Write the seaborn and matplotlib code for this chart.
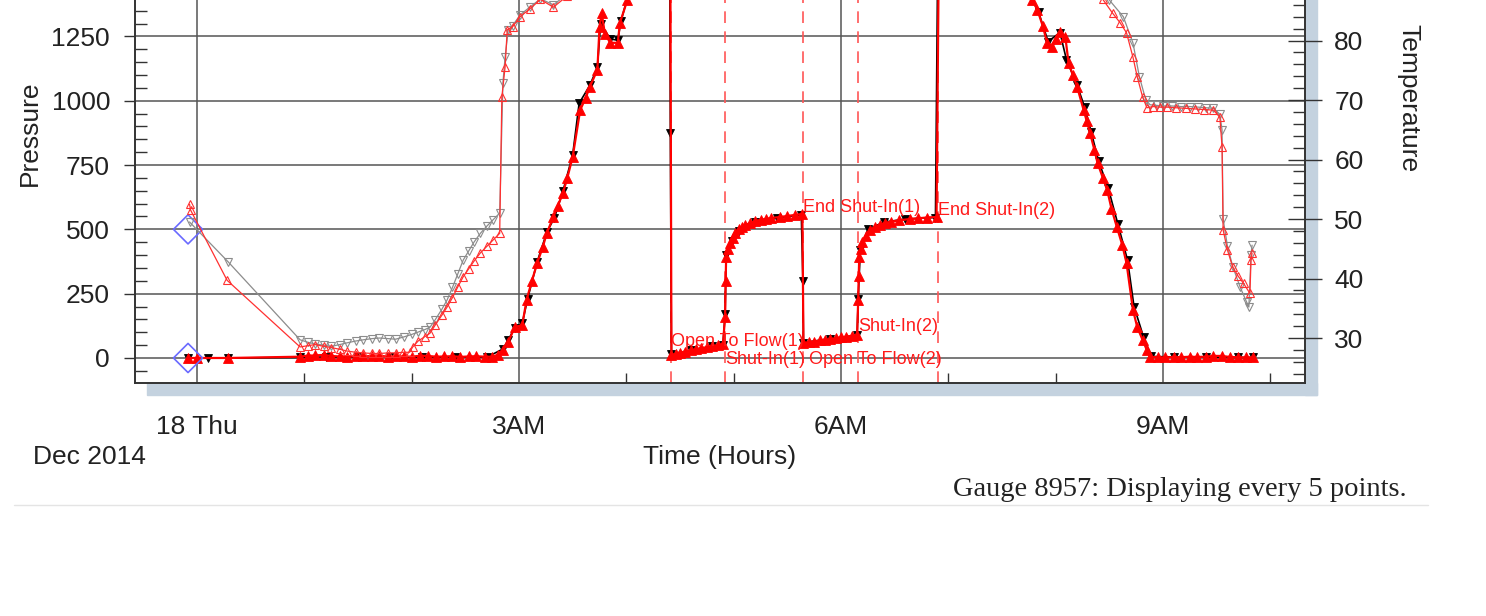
import matplotlib
matplotlib.use("Agg")
import matplotlib.pyplot as plt
from matplotlib.patches import Rectangle
from matplotlib.lines import Line2D
from matplotlib.ticker import MultipleLocator
import seaborn as sns

# ---- data (hours after midnight, Dec 18 2014) ----
# gauge pressure, red filled triangles
pres_red_h = [-0.08, 0.0, 0.29, 0.96, 1.03, 1.1, 1.18, 1.25, 1.33, 1.4, 1.48, 1.55, 1.63, 1.7,
              1.78, 1.85, 1.93, 2.0, 2.08, 2.15, 2.23, 2.3, 2.38, 2.45, 2.53, 2.6, 2.68, 2.75,
              2.8, 2.85, 2.9, 2.96, 3.03, 3.07, 3.12, 3.17, 3.22, 3.26, 3.32, 3.36, 3.41, 3.45,
              3.5, 3.57, 3.62, 3.66, 3.73, 3.75, 3.77, 3.8, 3.85, 3.92, 3.94, 4.01, 4.15, 4.3,
              4.41, 4.42, 4.46, 4.5, 4.55, 4.6, 4.65, 4.7, 4.75, 4.8, 4.85, 4.9, 4.92, 4.925,
              4.93, 4.95, 4.97, 4.99, 5.01, 5.05, 5.08, 5.11, 5.15, 5.2, 5.25, 5.3, 5.35, 5.43,
              5.5, 5.57, 5.64, 5.65, 5.7, 5.75, 5.8, 5.85, 5.9, 5.95, 6.0, 6.05, 6.1, 6.15,
              6.16, 6.165, 6.17, 6.185, 6.2, 6.23, 6.27, 6.32, 6.36, 6.41, 6.47, 6.54, 6.64,
              6.72, 6.8, 6.89, 6.91, 7.3, 7.7, 7.78, 7.83, 7.88, 7.92, 7.97, 8.0, 8.04, 8.09,
              8.12, 8.16, 8.2, 8.26, 8.29, 8.32, 8.36, 8.39, 8.44, 8.48, 8.52, 8.57, 8.62,
              8.66, 8.72, 8.76, 8.81, 8.85, 8.88, 8.95, 9.02, 9.1, 9.17, 9.25, 9.32, 9.4, 9.47,
              9.55, 9.62, 9.7, 9.77, 9.84]
pres_red = [0, 0, 0, 5, 9, 10, 12, 8, 6, 4, 7, 6, 8, 9,
            5, 7, 6, 5, 9, 8, 5, 6, 7, 4, 6, 7, 5, 5,
            12, 31, 62, 120, 128, 225, 300, 369, 430, 486, 548, 590, 642, 700,
            782, 964, 1010, 1054, 1120, 1287, 1341, 1260, 1225, 1225, 1302, 1392, 1480, 1520,
            1530, 12, 16, 21, 25, 30, 34, 38, 42, 46, 50, 55, 159, 300,
            393, 425, 447, 468, 486, 500, 510, 517, 524, 532, 537, 541, 544, 548,
            552, 556, 560, 58, 62, 64, 68, 71, 73, 77, 80, 83, 86, 89,
            225, 320, 393, 425, 451, 475, 498, 510, 518, 525, 530, 535, 540,
            543, 546, 548, 1520, 1560, 1500, 1392, 1353, 1290, 1225, 1209, 1240, 1268, 1248,
            1147, 1100, 1054, 964, 920, 875, 810, 758, 700, 653, 580, 509, 440,
            369, 187, 120, 70, 30, 4, 3, 2, 4, 3, 5, 4, 5, 8,
            8, 4, 3, 2, 2]

# gauge pressure, black filled triangles
pres_blk_h = [-0.08, 0.1, 0.29, 0.96, 1.2, 1.5, 1.8, 2.1, 2.4, 2.7, 2.85, 2.9, 2.96, 3.03, 3.08,
              3.17, 3.26, 3.33, 3.41, 3.5, 3.56, 3.66, 3.73, 3.76, 3.85, 3.92, 3.95, 4.01, 4.3,
              4.405, 4.41, 4.42, 4.6, 4.8, 4.9, 4.92, 4.93, 4.98, 5.05, 5.2, 5.4, 5.63, 5.645,
              5.65, 5.9, 6.15, 6.16, 6.18, 6.25, 6.4, 6.6, 6.88, 6.9, 7.7, 7.78, 7.84, 7.93,
              8.04, 8.1, 8.2, 8.27, 8.33, 8.4, 8.49, 8.58, 8.67, 8.73, 8.82, 8.89, 9.1, 9.4,
              9.7, 9.84]
pres_blk = [0, 0, 0, 2, 4, 3, 5, 2, 4, 3, 35, 70, 118, 135, 230,
            375, 490, 545, 650, 790, 990, 1060, 1130, 1300, 1240, 1235, 1310, 1400, 1525,
            1525, 875, 15, 30, 45, 52, 170, 400, 455, 495, 530, 545, 556, 300,
            60, 75, 88, 230, 420, 500, 528, 540, 546, 1500, 1500, 1395, 1345, 1230,
            1265, 1160, 1060, 975, 880, 765, 660, 520, 380, 200, 80, 6, 4, 3,
            2, 2]

# gauge temperature, red hollow triangles
temp_red_h = [-0.07, -0.06, 0.28, 0.96, 1.03, 1.1, 1.18, 1.25, 1.33, 1.4, 1.48, 1.55, 1.63,
              1.7, 1.78, 1.85, 1.92, 1.98, 2.01, 2.06, 2.12, 2.17, 2.22, 2.28, 2.33, 2.38,
              2.43, 2.48, 2.53, 2.58, 2.64, 2.7, 2.76, 2.82, 2.84, 2.87, 2.89, 2.94, 3.01,
              3.1, 3.2, 3.32, 3.45, 4.0, 5.0, 6.0, 7.0, 8.0, 8.44, 8.53, 8.6, 8.66, 8.72,
              8.76, 8.81, 8.85, 8.91, 8.97, 9.04, 9.12, 9.21, 9.3, 9.38, 9.47, 9.53, 9.55,
              9.56, 9.6, 9.65, 9.7, 9.75, 9.81, 9.82, 9.83]
temp_red = [52.5, 51.5, 39.7, 28.5, 28.7, 28.9, 28.6, 28.4, 28.1, 27.8, 27.6, 27.5, 27.4,
            27.4, 27.5, 27.5, 27.6, 27.6, 28.5, 29.5, 30.2, 30.8, 32.2, 33.8, 35.2, 36.8,
            38.6, 40.3, 41.6, 42.9, 44.3, 45.4, 46.5, 47.6, 70.5, 75.5, 81.8, 82.3, 84.0,
            85.3, 86.9, 85.6, 87.5, 95, 100, 100, 98, 95, 86.9, 84.6, 83.0, 81.3, 77.2,
            73.9, 70.5, 68.7, 68.9, 68.8, 68.8, 68.7, 68.6, 68.5, 68.4, 68.3, 67.1, 62.1,
            48.2, 44.8, 41.9, 40.4, 39.2, 37.5, 43.1, 44.3]

# gauge temperature, gray hollow triangles
temp_gry_h = [-0.07, 0.29, 0.96, 1.03, 1.1, 1.18, 1.25, 1.33, 1.4, 1.48, 1.55, 1.63, 1.7,
              1.78, 1.85, 1.93, 2.0, 2.06, 2.12, 2.17, 2.22, 2.28, 2.33, 2.38, 2.43, 2.48,
              2.53, 2.58, 2.64, 2.7, 2.76, 2.82, 2.85, 2.87, 2.9, 2.94, 3.01, 3.1, 3.2, 3.32,
              3.45, 4.0, 5.0, 6.0, 7.0, 8.0, 8.5, 8.63, 8.72, 8.78, 8.84, 8.88, 8.94, 9.0,
              9.08, 9.17, 9.25, 9.33, 9.4, 9.47, 9.53, 9.55, 9.56, 9.6, 9.65, 9.72, 9.78,
              9.8, 9.82, 9.83]
temp_gry = [49.5, 42.8, 29.7, 29.3, 29.0, 28.8, 28.6, 28.9, 29.2, 29.5, 29.7, 29.9, 30.0,
            29.9, 29.8, 30.2, 30.6, 31.0, 31.4, 31.8, 33.1, 34.8, 36.4, 38.5, 40.8, 43.1,
            44.6, 46.1, 47.6, 48.8, 49.9, 51.0, 72.9, 77.2, 81.8, 82.5, 84.3, 85.6, 87.0,
            86.0, 87.8, 95, 100, 100, 98, 95, 86.8, 84.0, 79.6, 73.9, 70.0, 69.2, 69.1,
            69.0, 69.0, 68.9, 68.9, 68.8, 68.7, 68.6, 67.6, 65.0, 50.0, 45.5, 42.0, 38.5,
            36.0, 35.2, 44.0, 45.6]

# reference markers (blue diamonds)
ref_h = [-0.084, -0.084]
ref_p = [500, 0]

# test events
event_h = [4.42, 4.92, 5.65, 6.16, 6.90]
event_labels = ["Open To Flow(1)", "Shut-In(1)", "End Shut-In(1)", "Open To Flow(2)",
                "Shut-In(2)", "End Shut-In(2)"]
event_label_h = [4.42, 4.92, 5.65, 5.70, 6.16, 6.90]
event_label_p = [64, -4, 583, -4, 121, 575]

x_ticks = [0, 3, 6, 9]
x_ticklabels = ["18 Thu", "3AM", "6AM", "9AM"]
p_ticks = [0, 250, 500, 750, 1000, 1250]
t_ticks = [30, 40, 50, 60, 70, 80]

W, H = 1486, 616


def fx(px):
    return px / W


def fy(py):
    return 1 - py / H


sns.set_style("white")
plt.rcParams["font.family"] = ["Liberation Sans", "DejaVu Sans"]

fig = plt.figure(figsize=(W / 100, H / 100), dpi=100)
ax = fig.add_axes([fx(135), fy(383), fx(1305) - fx(135), (383 + 30) / H])
ax2 = ax.twinx()

# drop shadow behind the plot frame
shadow = "#c4d2df"
fig.add_artist(Rectangle((fx(1305), fy(395)), fx(12), (395 + 10) / H,
                         transform=fig.transFigure, color=shadow, zorder=-1))
fig.add_artist(Rectangle((fx(147), fy(395)), fx(1170), 12 / H,
                         transform=fig.transFigure, color=shadow, zorder=-1))

# event lines
for h in event_h:
    ax.axvline(h, color="#ff5555", lw=1.2, ls=(0, (7, 5)), zorder=1)

# pressure
sns.lineplot(x=pres_blk_h, y=pres_blk, ax=ax, color="black", lw=1.2, marker="v",
             markersize=6, markeredgewidth=0.6, markeredgecolor="black",
             estimator=None, sort=False, zorder=3)
sns.lineplot(x=pres_red_h, y=pres_red, ax=ax, color="#ff0000", lw=1.6, marker="^",
             markersize=6.5, markeredgewidth=0.6, markeredgecolor="#ff0000",
             estimator=None, sort=False, zorder=4)
sns.scatterplot(x=ref_h, y=ref_p, ax=ax, marker="D", s=220, facecolor="none",
                edgecolor="#6a6aff", linewidth=1.2, zorder=5)

# temperature
sns.lineplot(x=temp_gry_h, y=temp_gry, ax=ax2, color="#8c8c8c", lw=0.9, marker="v",
             markersize=6, markerfacecolor="none", markeredgecolor="#8c8c8c",
             markeredgewidth=0.8, estimator=None, sort=False)
sns.lineplot(x=temp_red_h, y=temp_red, ax=ax2, color="#ff3030", lw=0.9, marker="^",
             markersize=6, markerfacecolor="none", markeredgecolor="#ff3030",
             markeredgewidth=0.8, estimator=None, sort=False)

for lab, h, p in zip(event_labels, event_label_h, event_label_p):
    ax.text(h, p, lab, color="#ff1a1a", fontsize=13, ha="left", va="center", zorder=6)

# axes limits / ticks
ax.set_xlim(-0.578, 10.323)
ax.set_ylim(-97.2, 1508)
ax2.set_ylim(22.44, 91.85)

ax.set_xticks(x_ticks)
ax.set_xticklabels(x_ticklabels)
ax.xaxis.set_minor_locator(MultipleLocator(1))
ax.set_yticks(p_ticks)
ax.yaxis.set_minor_locator(MultipleLocator(50))
ax2.set_yticks(t_ticks)
ax2.yaxis.set_minor_locator(MultipleLocator(2))

ax.grid(True, which="major", color="#555555", lw=1.1)
ax.set_axisbelow(True)
ax.tick_params(axis="x", which="major", direction="out", length=21, width=1,
               color="#333333", pad=2, labelsize=19, labelcolor="#222222")
ax.tick_params(axis="x", which="minor", direction="in", length=7, width=1,
               color="#333333", bottom=True)
ax.tick_params(axis="y", which="major", direction="out", length=8, width=1,
               color="#333333", pad=10, labelsize=19, labelcolor="#222222", left=True)
ax.tick_params(axis="y", which="minor", direction="in", length=8.5, width=1,
               color="#333333", left=True)
ax2.tick_params(axis="y", which="major", direction="inout", length=24, width=1,
                color="#333333", pad=9, labelsize=19, labelcolor="#222222", right=True)
ax2.tick_params(axis="y", which="minor", direction="in", length=8.5, width=1,
                color="#333333", right=True)

for a in (ax, ax2):
    for side in ("left", "right", "bottom", "top"):
        a.spines[side].set_color("#333333")
        a.spines[side].set_linewidth(1.2)
ax.set_xlabel("")
ax.set_ylabel("")
ax2.set_ylabel("")

# labels
fig.text(fx(30), fy(133), "Pressure", rotation=90, ha="center", va="center",
         fontsize=19, color="#222222")
fig.text(fx(1408), fy(98), "Temperature", rotation=270, ha="center", va="center",
         fontsize=19, color="#222222")
fig.text(fx(89), fy(457), "Dec 2014", ha="center", va="center", fontsize=19, color="#222222")
fig.text(fx(720), fy(457), "Time (Hours)", ha="center", va="center", fontsize=19,
         color="#222222")
fig.text(fx(1407), fy(489), "Gauge 8957: Displaying every 5 points.", ha="right",
         va="center", fontsize=20.5, family=["Liberation Serif", "DejaVu Serif"],
         color="#222222")
fig.add_artist(Line2D([fx(14), fx(1428)], [fy(505), fy(505)], transform=fig.transFigure,
                      color="#e4e4e4", lw=1))

fig.savefig("out.png", dpi=100)
